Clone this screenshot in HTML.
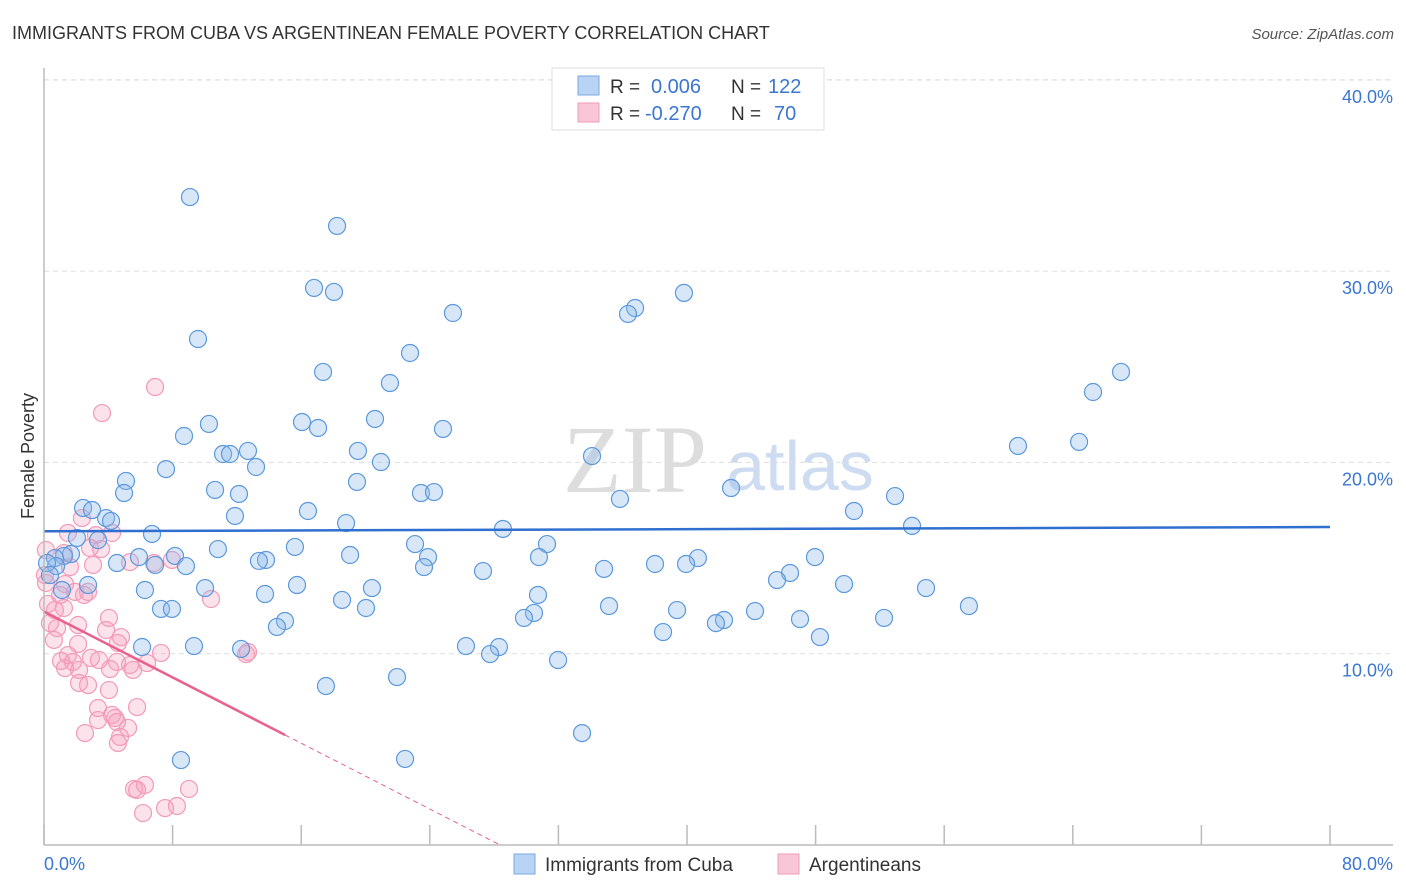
<!DOCTYPE html>
<html><head><meta charset="utf-8"><style>
body{margin:0;background:#fff;font-family:"Liberation Sans",sans-serif;}
#wrap{position:relative;width:1406px;height:892px;overflow:hidden;}
</style></head><body>
<div id="wrap">
<svg id="chart" width="1406" height="892" style="position:absolute;left:0;top:0">
<text x="12" y="39" font-size="18" fill="#333">IMMIGRANTS FROM CUBA VS ARGENTINEAN FEMALE POVERTY CORRELATION CHART</text>
<text x="1394" y="39" font-size="15" fill="#555" font-style="italic" text-anchor="end">Source: ZipAtlas.com</text>
<text x="635" y="492" font-size="96" fill="#ddd" font-family="Liberation Serif" text-anchor="middle">ZIP</text>
<text x="800" y="490" font-size="70" fill="#cddcf0" text-anchor="middle">atlas</text>
<text transform="translate(34,456) rotate(-90)" font-size="18" fill="#333" text-anchor="middle">Female Poverty</text>
<g id="grid"></g><g id="pts"></g><g id="trend"></g>
<line x1="44" y1="68" x2="44" y2="845" stroke="#bbb" stroke-width="1.5"/>
<line x1="44" y1="845" x2="1393" y2="845" stroke="#bbb" stroke-width="1.5"/>
<text x="44" y="870" font-size="18" fill="#3b76d1">0.0%</text>
<text x="1393" y="870" font-size="18" fill="#3b76d1" text-anchor="end">80.0%</text>
<g>
<rect x="552" y="68" width="272" height="62" fill="#fff" stroke="#ddd"/>
<rect x="578" y="76" width="21" height="19" fill="#b8d3f3" stroke="#7aaae6"/>
<rect x="578" y="103" width="21" height="19" fill="#f8c6d6" stroke="#ef9ab7"/>
<text x="610" y="93" font-size="19" fill="#333">R = </text><text x="651" y="93" font-size="20" fill="#3b76d1">0.006</text>
<text x="731" y="93" font-size="19" fill="#333">N = </text><text x="768" y="93" font-size="20" fill="#3b76d1">122</text>
<text x="610" y="120" font-size="19" fill="#333">R = </text><text x="645" y="120" font-size="20" fill="#3b76d1">-0.270</text>
<text x="731" y="120" font-size="19" fill="#333">N = </text><text x="774" y="120" font-size="20" fill="#3b76d1">70</text>
</g>
<g>
<rect x="514" y="854" width="21" height="20" fill="#b8d3f3" stroke="#7aaae6"/>
<text x="545" y="871" font-size="19" fill="#333">Immigrants from Cuba</text>
<rect x="778" y="854" width="21" height="20" fill="#f8c6d6" stroke="#ef9ab7"/>
<text x="809" y="871" font-size="19" fill="#333">Argentineans</text>
</g>
</svg>
</div>
<script>
const blueX=[9.08,18.23,16.8,18.04,39.81,25.44,36.77,36.33,9.58,22.77,17.36,67.0,21.52,65.26,10.26,20.59,16.05,17.05,24.82,8.71,60.59,64.39,12.69,11.14,11.57,19.53,13.19,7.59,20.96,34.09,5.1,19.47,10.64,4.98,12.13,23.45,24.26,42.74,52.94,35.83,2.43,2.99,16.42,50.39,11.88,3.86,4.17,18.79,54.0,28.55,6.72,2.05,3.36,23.08,15.61,31.29,10.82,1.68,1.24,0.68,5.91,8.15,19.04,23.89,30.79,47.96,40.68,13.81,13.37,4.54,6.91,8.83,23.64,39.94,38.01,27.31,34.84,0.75,0.19,46.41,45.6,15.74,49.77,2.74,1.12,20.4,54.87,6.28,13.75,10.02,30.73,18.54,20.03,7.28,7.96,35.15,57.54,39.38,44.23,30.48,29.86,47.03,52.26,14.99,14.49,42.3,41.8,38.51,48.27,6.1,9.33,12.26,26.25,28.3,27.75,31.98,21.96,17.54,33.47,8.52,22.46,0.37];
const blueY=[33.87,32.36,29.12,28.91,28.86,27.81,28.07,27.76,26.45,25.72,24.73,24.73,24.15,23.68,22.01,22.27,22.11,21.8,21.75,21.38,20.86,21.07,20.6,20.44,20.44,20.6,19.76,19.65,20.02,20.33,19.03,18.98,18.56,18.4,18.35,18.4,18.45,18.66,18.24,18.09,17.62,17.51,17.46,17.46,17.2,17.09,16.94,16.83,16.68,16.52,16.26,16.05,15.94,15.73,15.58,15.73,15.47,15.21,15.11,15.0,15.05,15.11,15.16,15.05,15.05,15.05,15.0,14.9,14.85,14.74,14.64,14.58,14.53,14.69,14.69,14.32,14.43,14.58,14.74,14.22,13.85,13.59,13.64,13.59,13.33,13.43,13.43,13.33,13.12,13.43,13.07,12.81,12.39,12.34,12.34,12.49,12.49,12.28,12.23,12.13,11.87,11.81,11.87,11.71,11.4,11.76,11.6,11.13,10.87,10.35,10.4,10.25,10.4,10.35,9.98,9.67,8.78,8.31,5.85,4.44,4.5,14.11];
const pinkX=[6.91,3.61,1.49,2.36,3.23,4.23,2.86,3.55,1.24,0.12,1.62,3.05,5.35,6.84,7.96,0.12,1.31,2.74,1.93,0.25,1.24,0.68,10.39,0.37,0.81,2.12,3.86,4.79,0.62,2.12,4.6,2.92,3.42,1.49,1.06,1.8,4.54,5.35,6.41,5.54,12.69,12.57,7.28,1.31,2.18,2.74,4.04,2.18,4.11,5.79,3.36,4.23,4.42,4.54,5.23,2.55,4.73,4.6,6.28,5.6,5.79,9.02,7.53,8.27,6.16,3.36,0.06,1.0,2.49,4.04];
const pinkY=[23.94,22.58,16.31,17.09,16.2,16.31,15.53,15.47,15.26,15.42,14.53,14.64,14.79,14.74,14.9,13.7,13.64,13.23,13.23,12.6,12.39,12.28,12.86,11.6,11.34,11.5,11.24,10.87,10.72,10.51,10.56,9.78,9.67,9.93,9.62,9.57,9.57,9.41,9.51,9.15,10.09,9.98,10.04,9.25,8.47,8.36,8.1,9.15,9.2,7.21,7.16,6.8,6.64,6.43,6.12,5.85,5.65,5.33,3.14,2.93,2.88,2.93,1.93,2.04,1.67,6.53,14.11,13.07,13.07,11.87];
const yTicks=[10,20,30,40];
const yTickLabels=["10.0%","20.0%","30.0%","40.0%"];
const xTicks=[0,8,16,24,32,40,48,56,64,72,80];
const blueTrend=[16.4,16.62];
const pinkTrend=[12.2,-0.43];
const pinkSolidEnd=15;
const NS="http://www.w3.org/2000/svg";
const X=v=>44+v*16.075, Y=v=>845-v*19.13;
function mk(t,a,p){const e=document.createElementNS(NS,t);for(const k in a)e.setAttribute(k,a[k]);p.appendChild(e);return e;}
const grid=document.getElementById('grid'),pts=document.getElementById('pts'),tr=document.getElementById('trend'),svg=document.getElementById('chart');
yTicks.forEach((t,i)=>{
 const l=mk('line',{x1:44,x2:1393,y1:Y(t),y2:Y(t),stroke:'#ddd','stroke-dasharray':'5,4'},grid);
 
 
 const tx=mk('text',{x:1393,y:Y(t)+23,'font-size':18,fill:'#3b76d1','text-anchor':'end'},svg);
 tx.textContent=yTickLabels[i];
 
 
});
mk('line',{x1:44,x2:1393,y1:80,y2:80,stroke:'#ddd','stroke-dasharray':'5,4'},grid);
xTicks.forEach(t=>{
 const l=mk('line',{x1:X(t),x2:X(t),y1:825,y2:845,stroke:'#bbb','stroke-width':1.5},grid);
 
 
});
pinkX.forEach((x,i)=>{
 const c=mk('circle',{cx:X(x),cy:Y(pinkY[i]),r:8.5,fill:'rgba(244,160,188,0.3)',stroke:'#f39ab8','stroke-width':1.2},pts);
 
 
});
blueX.forEach((x,i)=>{
 const c=mk('circle',{cx:X(x),cy:Y(blueY[i]),r:8.5,fill:'rgba(140,185,235,0.35)',stroke:'#5c98dc','stroke-width':1.2},pts);
 
 
});
const bl=mk('line',{x1:X(0),y1:Y(blueTrend[0]),x2:X(80),y2:Y(blueTrend[1]),stroke:'#2f6fd0','stroke-width':2.5},tr);


const pz=-pinkTrend[0]/pinkTrend[1];
const pl=mk('line',{x1:X(0),y1:Y(pinkTrend[0]),x2:X(pinkSolidEnd),y2:Y(pinkTrend[0]+pinkTrend[1]*pinkSolidEnd),stroke:'#e8628d','stroke-width':2.5},tr);


const pd=mk('line',{x1:X(pinkSolidEnd),y1:Y(pinkTrend[0]+pinkTrend[1]*pinkSolidEnd),x2:X(pz),y2:Y(0),stroke:'#e8628d','stroke-width':1,'stroke-dasharray':'5,4'},tr);


</script>
</body></html>
